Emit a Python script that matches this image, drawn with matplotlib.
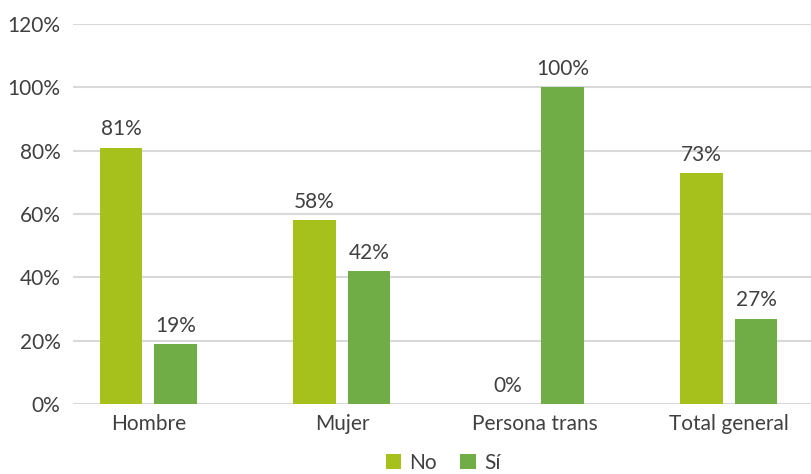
import numpy as np
import matplotlib.pyplot as plt

categorias = ["Hombre", "Mujer", "Persona trans", "Total general"]
no_vals = [81, 58, 0, 73]
si_vals = [19, 42, 100, 27]
series = ["No", "Sí"]

plt.rcParams['font.family'] = ['Lato', 'DejaVu Sans']
text_color = '#404040'

fig = plt.figure(figsize=(8.12, 4.74), dpi=100)
ax = fig.add_axes([73 / 812, 70 / 474, 1 - 73 / 812, 380 / 474])

x = np.arange(len(categorias))
w = 0.22
off = 0.141
b1 = ax.bar(x - off, no_vals, w, color='#a7c11c', label=series[0], zorder=3)
b2 = ax.bar(x + off, si_vals, w, color='#70ad47', label=series[1], zorder=3)

for bars, vals in [(b1, no_vals), (b2, si_vals)]:
    for rect, v in zip(bars, vals):
        ax.annotate(f"{v}%", (rect.get_x() + rect.get_width() / 2, v),
                    xytext=(0, 6), textcoords='offset points',
                    ha='center', va='bottom', fontsize=15, color=text_color)

ax.set_ylim(0, 120)
ax.set_yticks(range(0, 121, 20))
ax.set_yticklabels([f"{t}%" for t in range(0, 121, 20)])
ax.set_xlim(-0.39, 3.43)
ax.set_xticks(x)
ax.set_xticklabels(categorias)
ax.tick_params(axis='both', length=0, labelsize=15, colors=text_color)
ax.tick_params(axis='y', pad=9)
ax.tick_params(axis='x', pad=7)
ax.grid(axis='y', color='#d9d9d9', linewidth=1.5, zorder=0)
for s in ax.spines.values():
    s.set_visible(False)

fig.legend(loc='center', bbox_to_anchor=(443 / 812, 11 / 474), ncol=2, frameon=False,
           fontsize=15, handlelength=0.75, handleheight=0.75, handletextpad=0.4,
           columnspacing=1.1, labelcolor=text_color)

fig.savefig('out.png', dpi=100)
